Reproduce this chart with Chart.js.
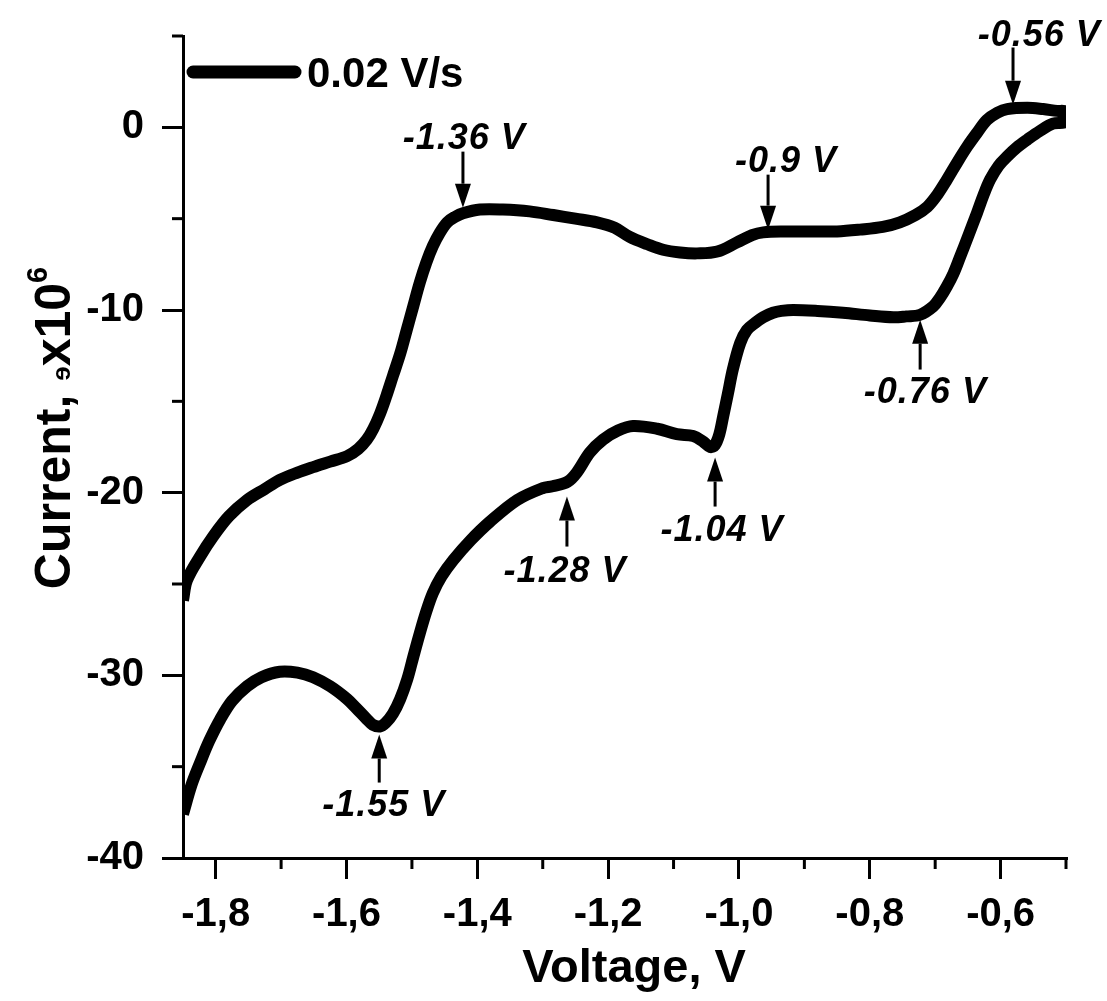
<!DOCTYPE html>
<html>
<head>
<meta charset="utf-8">
<script src="https://cdn.jsdelivr.net/npm/chart.js@4.4.1/dist/chart.umd.min.js"></script>
<style>
  body { margin: 0; background: #fff; }
  #wrap { width: 1107px; height: 1001px; position: relative; }
</style>
</head>
<body>
<div id="wrap"><canvas id="cvChart"></canvas></div>
<script>
// forward scan (left to right)
const upperV = [-1.85, -1.844, -1.824, -1.804, -1.78, -1.752, -1.725, -1.702, -1.675, -1.651, -1.625, -1.599, -1.582, -1.569, -1.559, -1.549, -1.539, -1.529, -1.518, -1.508, -1.498, -1.488, -1.478, -1.468, -1.457, -1.446, -1.434, -1.422, -1.396, -1.361, -1.32, -1.284, -1.25, -1.217, -1.19, -1.167, -1.14, -1.116, -1.09, -1.064, -1.033, -1.003, -0.98, -0.963, -0.93, -0.891, -0.85, -0.815, -0.78, -0.754, -0.73, -0.712, -0.697, -0.682, -0.666, -0.651, -0.636, -0.621, -0.605, -0.59, -0.559, -0.535, -0.514, -0.5];
const upperI = [-25.9, -24.8, -23.5, -22.4, -21.3, -20.4, -19.8, -19.3, -18.9, -18.6, -18.3, -18.0, -17.6, -17.1, -16.5, -15.7, -14.7, -13.6, -12.4, -11.1, -9.8, -8.5, -7.4, -6.5, -5.75, -5.2, -4.9, -4.7, -4.5, -4.5, -4.6, -4.8, -5.0, -5.2, -5.5, -6.0, -6.4, -6.7, -6.85, -6.9, -6.8, -6.3, -5.9, -5.75, -5.7, -5.7, -5.7, -5.6, -5.45, -5.2, -4.8, -4.35, -3.7, -2.86, -1.9, -1.05, -0.3, 0.4, 0.8, 1.0, 1.07, 1.0, 0.9, 0.85];

// reverse scan (right to left)
const lowerV = [-0.5, -0.52, -0.54, -0.559, -0.575, -0.59, -0.603, -0.616, -0.626, -0.636, -0.649, -0.662, -0.672, -0.682, -0.693, -0.703, -0.723, -0.744, -0.764, -0.8, -0.841, -0.88, -0.917, -0.935, -0.948, -0.963, -0.975, -0.988, -0.998, -1.009, -1.017, -1.024, -1.03, -1.037, -1.044, -1.055, -1.07, -1.095, -1.125, -1.162, -1.185, -1.208, -1.228, -1.248, -1.262, -1.285, -1.3, -1.339, -1.381, -1.41, -1.437, -1.455, -1.468, -1.478, -1.488, -1.498, -1.507, -1.518, -1.529, -1.54, -1.549, -1.56, -1.569, -1.585, -1.599, -1.625, -1.651, -1.675, -1.702, -1.73, -1.752, -1.775, -1.793, -1.81, -1.824, -1.837, -1.85];
const lowerI = [0.3, 0.2, -0.2, -0.67, -1.1, -1.6, -2.1, -2.86, -3.7, -4.68, -5.9, -7.1, -8.0, -8.7, -9.35, -9.8, -10.26, -10.35, -10.4, -10.3, -10.15, -10.05, -10.0, -10.05, -10.15, -10.4, -10.7, -11.1, -11.8, -13.2, -14.6, -15.8, -16.8, -17.4, -17.5, -17.2, -16.9, -16.8, -16.5, -16.35, -16.6, -17.1, -17.8, -18.9, -19.4, -19.65, -19.75, -20.4, -21.6, -22.6, -23.7, -24.6, -25.5, -26.5, -27.7, -29.0, -30.2, -31.3, -32.1, -32.6, -32.8, -32.7, -32.4, -31.8, -31.3, -30.6, -30.1, -29.85, -29.8, -30.1, -30.6, -31.4, -32.4, -33.6, -34.8, -36.0, -37.6];

const xTickVals = [-1.8, -1.6, -1.4, -1.2, -1.0, -0.8, -0.6];
const xTickLabels = ['-1,8', '-1,6', '-1,4', '-1,2', '-1,0', '-0,8', '-0,6'];
const xMinorVals = [-1.7, -1.5, -1.3, -1.1, -0.9, -0.7, -0.5];
const yTickVals = [-40, -30, -20, -10, 0];
const yTickLabels = ['-40', '-30', '-20', '-10', '0'];
const yMinorVals = [-35, -25, -15, -5, 5];

const seriesName = '0.02 V/s';

// peak marks: label, label centre (V, I), arrow x, arrow tail -> tip (I)
const peakText = ['-1.36 V', '-0.9 V', '-0.56 V', '-0.76 V', '-1.04 V', '-1.28 V', '-1.55 V'];
const peakTextV = [-1.420, -0.928, -0.541, -0.715, -1.026, -1.266, -1.543];
const peakTextI = [-0.62, -1.88, 5.02, -14.57, -22.13, -24.32, -37.18];
const peakArrowV = [-1.422, -0.9555, -0.581, -0.723, -1.0365, -1.263, -1.550];
const peakArrowFrom = [-1.33, -2.59, 4.37, -13.26, -20.76, -22.95, -35.87];
const peakArrowTo = [-4.40, -5.60, 1.24, -10.53, -18.08, -20.21, -33.24];

const loop = [];
upperV.forEach((v, i) => loop.push({ x: v, y: upperI[i] }));
lowerV.forEach((v, i) => loop.push({ x: v, y: lowerI[i] }));

const FONT = "'Liberation Sans', Arial, sans-serif";

const extras = {
  id: 'extras',
  afterDatasetsDraw(chart) {
    const ctx = chart.ctx;
    const xs = chart.scales.x, ys = chart.scales.y;
    const area = chart.chartArea;
    ctx.save();
    ctx.strokeStyle = '#000';
    ctx.fillStyle = '#000';

    // minor ticks
    ctx.lineWidth = 3;
    xMinorVals.forEach(v => {
      const px = xs.getPixelForValue(v);
      ctx.beginPath(); ctx.moveTo(px, area.bottom); ctx.lineTo(px, area.bottom + 11); ctx.stroke();
    });
    yMinorVals.forEach(v => {
      const py = ys.getPixelForValue(v);
      ctx.beginPath(); ctx.moveTo(area.left, py); ctx.lineTo(area.left - 11, py); ctx.stroke();
    });

    // arrows + labels
    ctx.font = 'italic bold 36px ' + FONT;
    ctx.letterSpacing = '1px';
    ctx.textAlign = 'center';
    ctx.textBaseline = 'middle';
    peakText.forEach((t, i) => {
      const ax = xs.getPixelForValue(peakArrowV[i]);
      const y0 = ys.getPixelForValue(peakArrowFrom[i]);
      const y1 = ys.getPixelForValue(peakArrowTo[i]);
      const dir = y1 > y0 ? 1 : -1;
      const head = 24;
      ctx.lineWidth = 3;
      ctx.beginPath(); ctx.moveTo(ax, y0); ctx.lineTo(ax, y1 - dir * head); ctx.stroke();
      ctx.beginPath();
      ctx.moveTo(ax, y1);
      ctx.lineTo(ax - 8, y1 - dir * head);
      ctx.lineTo(ax + 8, y1 - dir * head);
      ctx.closePath(); ctx.fill();
      ctx.fillText(t, xs.getPixelForValue(peakTextV[i]), ys.getPixelForValue(peakTextI[i]));
    });
    ctx.letterSpacing = '0px';

    // legend
    ctx.lineWidth = 13;
    ctx.lineCap = 'round';
    ctx.beginPath(); ctx.moveTo(193, 72); ctx.lineTo(295, 72); ctx.stroke();
    ctx.font = 'bold 42px ' + FONT;
    ctx.textAlign = 'left';
    ctx.textBaseline = 'alphabetic';
    ctx.fillText(seriesName, 307, 87);

    // x title
    ctx.font = 'bold 47px ' + FONT;
    ctx.textAlign = 'center';
    ctx.fillText('Voltage, V', 634, 982);

    // y title (rotated, with odd small glyph and superscript)
    ctx.translate(70, 428);
    ctx.rotate(-Math.PI / 2);
    ctx.textAlign = 'left';
    const parts = [
      { t: 'Current, ', f: 'bold 50px ' + FONT, dy: 0 },
      { t: 'ɘ', f: 'bold 26px ' + FONT, dy: 0 },
      { t: 'x10', f: 'bold 50px ' + FONT, dy: 0 },
      { t: '6', f: 'bold 29px ' + FONT, dy: -23 }
    ];
    let total = 0;
    parts.forEach(p => { ctx.font = p.f; total += ctx.measureText(p.t).width; });
    let cx = -total / 2;
    parts.forEach(p => {
      ctx.font = p.f;
      ctx.fillText(p.t, cx, p.dy);
      cx += ctx.measureText(p.t).width;
    });
    ctx.restore();
  }
};

const tickFont = { family: FONT, size: 40, weight: 'bold' };

new Chart(document.getElementById('cvChart'), {
  type: 'scatter',
  data: {
    datasets: [{
      label: seriesName,
      data: loop,
      showLine: true,
      borderColor: '#000',
      backgroundColor: '#000',
      borderWidth: 12,
      borderJoinStyle: 'round',
      borderCapStyle: 'butt',
      pointRadius: 0,
      tension: 0.35
    }]
  },
  options: {
    responsive: true,
    maintainAspectRatio: false,
    animation: false,
    layout: { padding: { top: 36, right: 41, bottom: 0, left: 0 } },
    plugins: { legend: { display: false }, tooltip: { enabled: false } },
    scales: {
      x: {
        type: 'linear',
        min: -1.85,
        max: -0.5,
        afterFit: s => { s.height = 143; s.paddingLeft = 0; s.paddingRight = 0; },
        afterBuildTicks: s => { s.ticks = xTickVals.map(v => ({ value: v })); },
        ticks: {
          font: tickFont,
          color: '#000',
          padding: 12,
          maxRotation: 0,
          autoSkip: false,
          callback: (v, i) => xTickLabels[i]
        },
        grid: { display: true, drawOnChartArea: false, drawTicks: true, tickLength: 21, lineWidth: 3, tickWidth: 3, tickColor: '#000' },
        border: { display: true, width: 3, color: '#000' }
      },
      y: {
        type: 'linear',
        min: -40,
        max: 5,
        afterFit: s => { s.width = 183; s.paddingTop = 0; s.paddingBottom = 0; },
        afterBuildTicks: s => { s.ticks = yTickVals.map(v => ({ value: v })); },
        ticks: {
          font: tickFont,
          color: '#000',
          padding: 18,
          autoSkip: false,
          callback: (v, i) => yTickLabels[i]
        },
        grid: { display: true, drawOnChartArea: false, drawTicks: true, tickLength: 21, lineWidth: 3, tickWidth: 3, tickColor: '#000' },
        border: { display: true, width: 3, color: '#000' }
      }
    }
  },
  plugins: [extras]
});
</script>
</body>
</html>
